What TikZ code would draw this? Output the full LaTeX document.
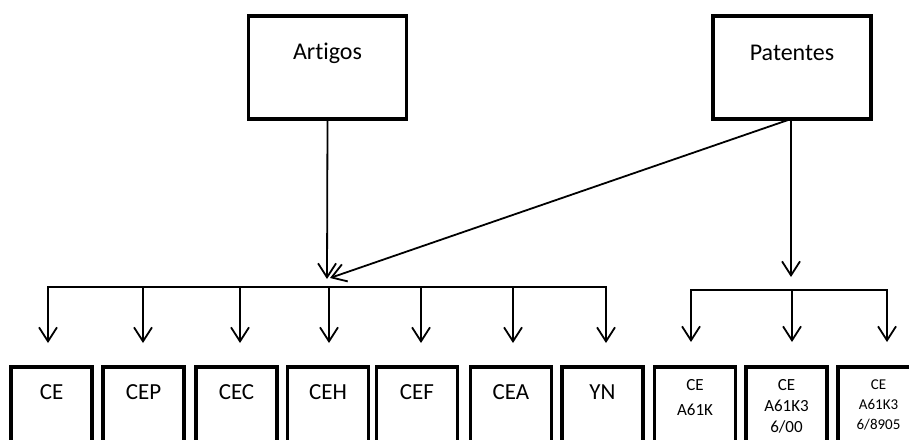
\documentclass[tikz,border=0pt]{standalone}
\usepackage{fontspec}
\setmainfont{Carlito}[Ligatures={NoCommon}]
\usetikzlibrary{arrows.meta,calc}
\begin{document}
\begin{tikzpicture}[x=1pt,y=-1pt,
  box/.style={draw=black,line width=3.5pt,rectangle,inner sep=0pt,fill=white},
  topbox/.style={box,minimum width=158pt,minimum height=103pt,anchor=north},
  botbox/.style={box,minimum width=81pt,minimum height=110pt,anchor=north},
  toptxt/.style={font=\fontsize{24}{28}\selectfont},
  bottxt/.style={font=\fontsize{23}{26}\selectfont},
  smalltxt/.style={font=\fontsize{17}{21}\selectfont,align=center,anchor=north},
  tinytxt/.style={font=\fontsize{15}{20}\selectfont,align=center,anchor=north},
  conn/.style={draw=black,line width=1.8pt},
  arr/.style={conn,-{Straight Barb[length=14pt,width=18pt]}}]
\useasboundingbox (0,0) rectangle (909,439);
\fill[white] (0,0) rectangle (909,439);
\begin{scope}
\clip (0,0) rectangle (909,439);
% top boxes
\node[topbox] (art) at (327.5,14) {};
\node[toptxt] (artt) at (327.5,53) {Artigos};
\node[topbox] (pat) at (792,14) {};
\node[toptxt] (patt) at (792,53) {Patentes};
% bottom boxes
\node[botbox] (b1) at (51.5,365) {};
\node[botbox] (b2) at (143.5,365) {};
\node[botbox] (b3) at (236.5,365) {};
\node[botbox] (b4) at (328,365) {};
\node[botbox] (b5) at (417,365) {};
\node[botbox] (b6) at (511,365) {};
\node[botbox] (b7) at (602.5,365) {};
\node[botbox] (b8) at (695,365) {};
\node[botbox] (b9) at (786.5,365) {};
\node[botbox] (b10) at (878.5,365) {};
\node[bottxt] (t1) at (51.5,392) {CE};
\node[bottxt] (t2) at (143.5,392) {CEP};
\node[bottxt] (t3) at (236.5,392) {CEC};
\node[bottxt] (t4) at (328,392) {CEH};
\node[bottxt] (t5) at (417,392) {CEF};
\node[bottxt] (t6) at (511,392) {CEA};
\node[bottxt] (t7) at (602.5,392) {YN};
\node[smalltxt,font=\fontsize{17}{25}\selectfont] (t8) at (695,376) {CE\\A61K};
\node[smalltxt] (t9) at (786.5,376) {CE\\A61K3\\6/00};
\node[tinytxt] (t10) at (878.5,376) {CE\\A61K3\\6/8905};
% connectors
\coordinate (ja) at (327,279);
\coordinate (jp) at (791,277);
\coordinate (ps) at (791,119);
\draw[arr] (art.south) -- (ja);
\draw[conn] (pat.south -| ps) -- (ps);
\draw[arr] (ps) -- (jp);
\draw[arr] (ps) -- (330,278);
% left bar
\coordinate (l1) at (48,287);
\coordinate (l7) at (606,287);
\draw[conn,line cap=rect] (48,300) -- (l1) -- (l7) -- (606,300);
\draw[arr] (l1) -- (48,343);
\draw[arr] (l7) -- (606,343);
\foreach \x in {143,240,329,421,513} {\draw[arr] (\x,287) -- (\x,343);}
% right bar
\coordinate (r1) at (691,290);
\coordinate (r3) at (887,290);
\draw[conn,line cap=rect] (691,300) -- (r1) -- (r3) -- (887,300);
\draw[arr] (r1) -- (691,342);
\draw[arr] (792,290) -- (792,342);
\draw[arr] (r3) -- (887,342);
\end{scope}
\end{tikzpicture}
\end{document}
